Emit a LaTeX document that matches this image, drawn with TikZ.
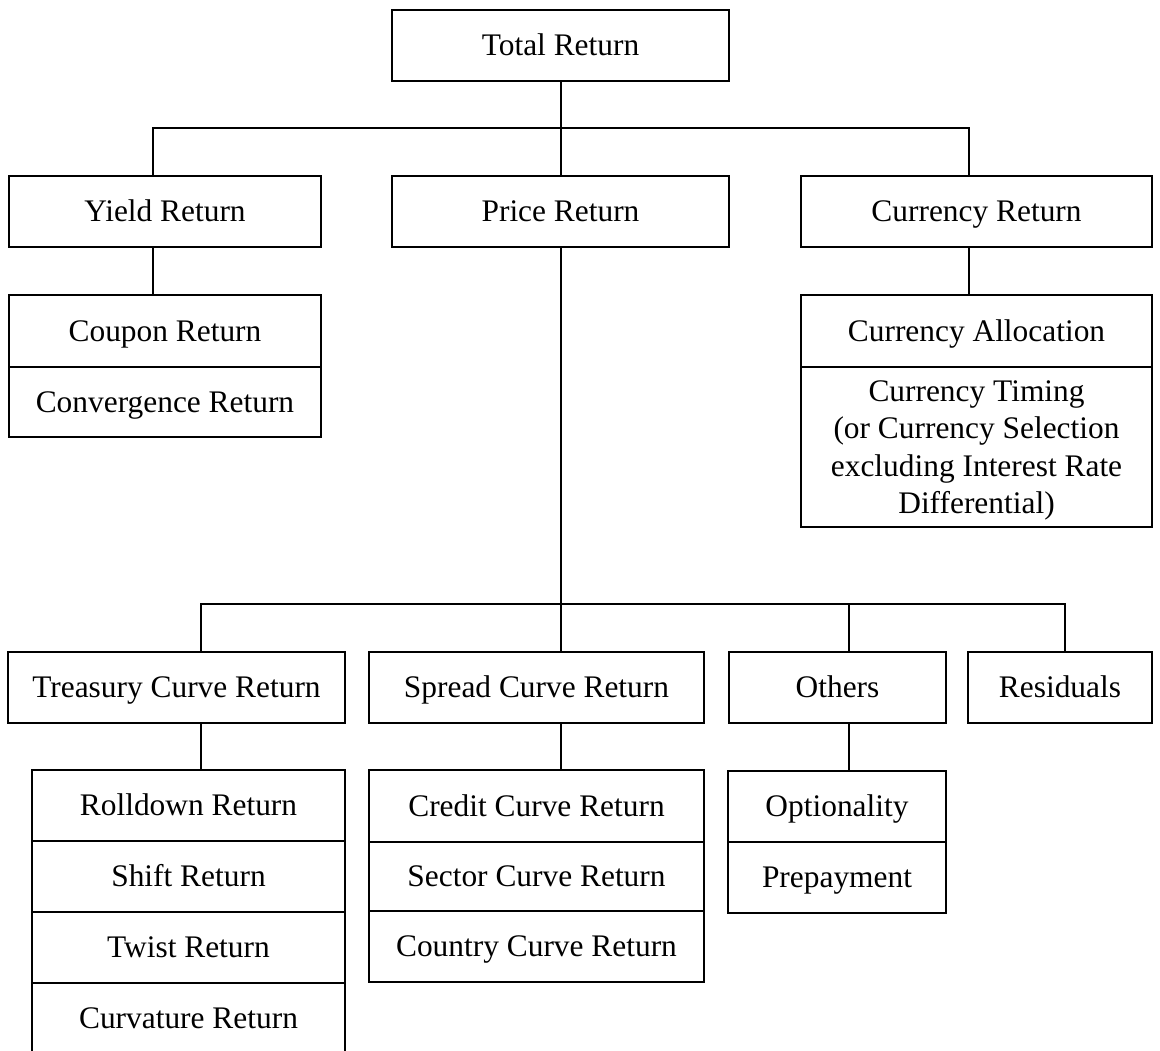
\documentclass[tikz,border=0pt]{standalone}
\usepackage{fontspec}
\setmainfont{Liberation Serif}
\usetikzlibrary{positioning}
\tikzset{box/.style={draw,rectangle,inner sep=0,outer sep=0,line width=1pt,
           align=center,minimum height=35.5pt,text height=13.5pt,text depth=3.2pt,
           font=\fontsize{15.7pt}{18.75pt}\selectfont},
         link/.style={draw,line width=1pt}}

\begin{document}
\begin{tikzpicture}[x=0.5pt,y=-0.5pt]
\useasboundingbox (0,0) rectangle (1160,1050);
\clip (0,0) rectangle (1160,1050);
% first two levels
\node[box,minimum width=168.5pt] (total) at (560.5,45.5) {Total Return};
\node[box,minimum width=156pt] (yield) at (165,211.5) {Yield Return};
\node[box,minimum width=168.5pt] (price) at (560.5,211.5) {Price Return};
\node[box,minimum width=175.5pt] (ccy) at (976.5,211.5) {Currency Return};
% yield and currency parts
\node[box,minimum width=156pt,minimum height=36pt] (coupon) at (165,331) {Coupon Return};
\node[box,minimum width=156pt,minimum height=35pt,below=0pt of coupon] (conv) {Convergence Return};
\node[box,minimum width=175.5pt,minimum height=36pt] (alloc) at (976.5,331) {Currency Allocation};
\node[box,minimum width=175.5pt,minimum height=80pt,text height=69.75pt,below=0pt of alloc] (timing)
  {Currency Timing\\(or Currency Selection\\excluding Interest Rate\\Differential)};
% price parts
\node[box,minimum width=168.5pt] (tsy) at (176.5,687.5) {Treasury Curve Return};
\node[box,minimum width=167.5pt] (sprd) at (536.5,687.5) {Spread Curve Return};
\node[box,minimum width=108.5pt] (oth) at (837.5,687.5) {Others};
\node[box,minimum width=92pt] (resid) at (1060,687.5) {Residuals};
\node[box,minimum width=156.5pt] (roll) at (188.5,805.5) {Rolldown Return};
\node[box,minimum width=156.5pt,below=0pt of roll] (shift) {Shift Return};
\node[box,minimum width=156.5pt,below=0pt of shift] (twist) {Twist Return};
\node[box,minimum width=156.5pt,below=0pt of twist] (curv) {Curvature Return};
\node[box,minimum width=167.5pt,minimum height=36pt] (credit) at (536.5,806) {Credit Curve Return};
\node[box,minimum width=167.5pt,minimum height=34.5pt,below=0pt of credit] (sector) {Sector Curve Return};
\node[box,minimum width=167.5pt,below=0pt of sector] (country) {Country Curve Return};
\node[box,minimum width=109pt,minimum height=35.5pt] (opt) at (837,806.5) {Optionality};
\node[box,minimum width=109pt,below=0pt of opt] (prepay) {Prepayment};
% connectors
\coordinate (b1l) at (153,128);
\coordinate (b1r) at (969,128);
\coordinate (b2l) at (200.5,604);
\coordinate (b2r) at (1065,604);
\coordinate (b2o) at (849,604);
\draw[link] (total) -- (price);
\draw[link] (b1l |- yield.north) -- (b1l) -- (b1r) -- (b1r |- ccy.north);
\draw[link] (b1l |- yield.south) -- (b1l |- coupon.north);
\draw[link] (b1r |- ccy.south) -- (b1r |- alloc.north);
\draw[link] (price.south) -- (price.south |- sprd.north);
\draw[link] (b2l |- tsy.north) -- (b2l) -- (b2r) -- (b2r |- resid.north);
\draw[link] (b2o) -- (b2o |- oth.north);
\draw[link] (b2l |- tsy.south) -- (b2l |- roll.north);
\draw[link] (price.south |- sprd.south) -- (price.south |- credit.north);
\draw[link] (b2o |- oth.south) -- (b2o |- opt.north);
\end{tikzpicture}
\end{document}
